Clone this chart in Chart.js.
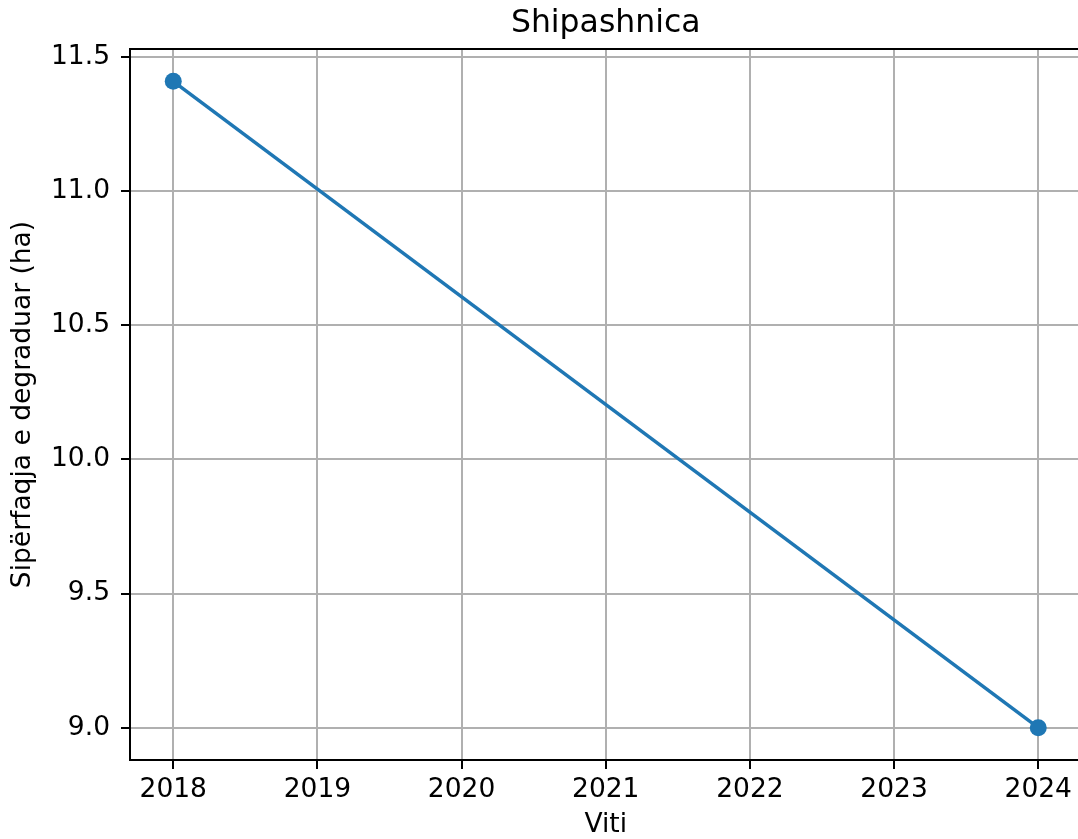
<!DOCTYPE html>
<html>
<head>
<meta charset="utf-8">
<script src="https://cdn.jsdelivr.net/npm/chart.js@4/dist/chart.umd.min.js"></script>
<style>
  html, body { margin: 0; padding: 0; overflow: hidden; background: #fff; width: 1078px; height: 839px; }
  #wrap { position: absolute; left: 0; top: 0; width: 1090px; height: 839px; }
</style>
</head>
<body>
<div id="wrap"><canvas id="c"></canvas></div>
<script>
const years = [2018, 2024];
const values = [11.41, 9.0];
const titleText = 'Shipashnica';
const xLabel = 'Viti';
const yLabel = 'Sipërfaqja e degraduar (ha)';
const xRange = [2017.7, 2024.3];
const yRange = [8.8795, 11.5305];

const FONT = "'DejaVu Sans', sans-serif";

const framePlugin = {
  id: 'frame',
  afterDatasetsDraw(chart) {
    const {ctx, chartArea: a} = chart;
    ctx.save();
    ctx.strokeStyle = '#000';
    ctx.lineWidth = 2;
    ctx.beginPath();
    ctx.moveTo(a.left - 1, a.top);
    ctx.lineTo(a.right + 1, a.top);
    ctx.moveTo(a.right, a.top);
    ctx.lineTo(a.right, a.bottom);
    ctx.stroke();
    // title centered over the plot area
    ctx.fillStyle = '#000';
    ctx.font = "31.5px " + FONT;
    ctx.textAlign = 'center';
    ctx.textBaseline = 'alphabetic';
    ctx.fillText(titleText, (a.left + a.right) / 2, 32);
    ctx.restore();
  }
};

new Chart(document.getElementById('c'), {
  type: 'line',
  data: {
    datasets: [{
      data: years.map((y, i) => ({x: y, y: values[i]})),
      borderColor: '#1f77b4',
      backgroundColor: '#1f77b4',
      borderWidth: 3.5,
      pointRadius: 8.5,
      pointBorderWidth: 0,
      pointBackgroundColor: '#1f77b4',
      fill: false,
      tension: 0
    }]
  },
  options: {
    responsive: true,
    maintainAspectRatio: false,
    devicePixelRatio: 1,
    animation: false,
    layout: { padding: { left: 0, right: 7, top: 49, bottom: 0 } },
    plugins: {
      legend: { display: false },
      tooltip: { enabled: false },
      title: { display: false }
    },
    scales: {
      x: {
        type: 'linear',
        min: xRange[0],
        max: xRange[1],
        afterFit(s) { s.height = 79; s.paddingLeft = 0; s.paddingRight = 0; },
        ticks: {
          stepSize: 1,
          includeBounds: false,
          autoSkip: false,
          maxRotation: 0,
          color: '#000',
          padding: 4.9,
          font: { family: FONT, size: 26.5 },
          callback: v => String(v)
        },
        grid: { color: '#b0b0b0', lineWidth: 2, tickColor: '#000', tickLength: 9, tickWidth: 2 },
        border: { color: '#000', width: 2 },
        title: {
          display: true,
          text: xLabel,
          color: '#000',
          font: { family: FONT, size: 26.5, lineHeight: 1.0 },
          padding: { top: 0, bottom: 0.95 }
        }
      },
      y: {
        type: 'linear',
        min: yRange[0],
        max: yRange[1],
        afterFit(s) { s.width = 130; s.paddingTop = 0; s.paddingBottom = 0; },
        ticks: {
          stepSize: 0.5,
          includeBounds: false,
          color: '#000',
          padding: 11,
          font: { family: FONT, size: 26.5 },
          callback: v => Number(v).toFixed(1)
        },
        grid: { color: '#b0b0b0', lineWidth: 2, tickColor: '#000', tickLength: 9, tickWidth: 2 },
        border: { color: '#000', width: 2 },
        title: {
          display: true,
          text: yLabel,
          color: '#000',
          font: { family: FONT, size: 26.5, lineHeight: 1.2 },
          padding: { top: 6.9, bottom: 6.9 }
        }
      }
    }
  },
  plugins: [framePlugin]
});
</script>
</body>
</html>
